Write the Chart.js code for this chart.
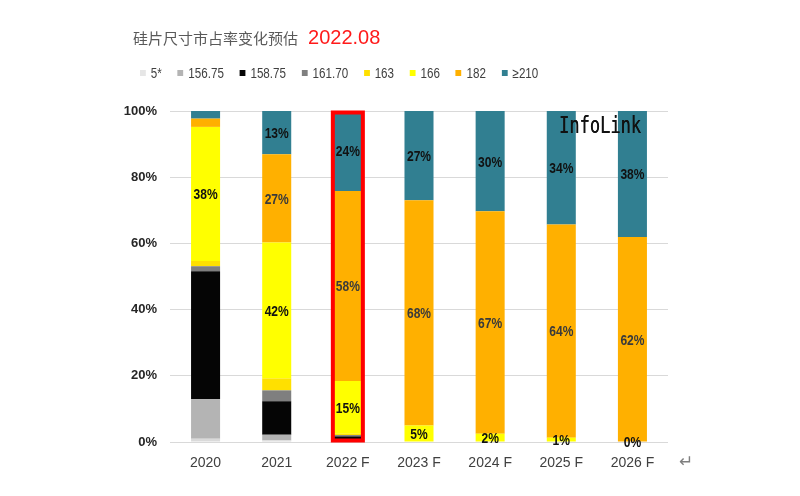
<!DOCTYPE html>
<html>
<head>
<meta charset="utf-8">
<script src="https://cdn.jsdelivr.net/npm/chart.js@4/dist/chart.umd.min.js"></script>
<style>
  html, body { margin: 0; padding: 0; background: #fff; }
  #wrap { position: relative; width: 800px; height: 496px; overflow: hidden; }
  #c { position: absolute; left: 0; top: 0; }
  #title { position: absolute; left: 133px; top: 24px; line-height: 26px; white-space: nowrap; }
  #title .cn { font-family: "Noto Sans CJK SC", sans-serif; font-size: 15px; color: #595959; }
  #title .dt { font-family: "Liberation Sans", Arial, sans-serif; font-size: 20px; color: #ff1a1a; margin-left: 10px; }
  #legend { position: absolute; left: 140px; top: 64px; height: 18px; display: flex; align-items: center; white-space: nowrap;
            font-family: "Liberation Sans", Arial, sans-serif; font-size: 14px; color: #404040;
            transform: scaleX(0.83); transform-origin: left center; }
  #legend .it { display: flex; align-items: center; margin-right: 19px; }
  #legend .bx { width: 7px; height: 6px; margin-right: 6px; }
  #logo { position: absolute; left: 559px; top: 112px; font-family: "DejaVu Sans Mono", monospace; font-size: 23px; color: #111;
          transform: scaleX(0.74); transform-origin: left top; white-space: nowrap; text-shadow: 0.4px 0 0 #111; }
  #ret { position: absolute; left: 679px; top: 451px; font-family: "DejaVu Sans", sans-serif; font-size: 17px; color: #7f7f7f; }
</style>
</head>
<body>
<div id="wrap">
  <canvas id="c" width="800" height="496"></canvas>
  <div id="title"><span class="cn">硅片尺寸市占率变化预估</span><span class="dt">2022.08</span></div>
  <div id="legend"></div>
  <div id="logo">InfoLink</div>
  <div id="ret">↵</div>
</div>
<script>
// ---- data ----
const categories = ['2020', '2021', '2022 F', '2023 F', '2024 F', '2025 F', '2026 F'];
const seriesNames = ['5*', '156.75', '158.75', '161.70', '163', '166', '182', '≥210'];
const s5     = [1.0, 0.5, 0,    0,    0,    0,    0];
const s15675 = [11.9, 1.7, 0.3, 0,    0,    0,    0];
const s15875 = [38.7, 10.1, 1.4, 0,   0,    0,    0];
const s16170 = [1.5, 3.3, 0.4,  0,    0,    0,    0];
const s163   = [1.6, 3.6, 0.4,  0,    0,    0,    0];
const s166   = [40.5, 41.1, 15.9, 5.0, 2.5, 1.3, 0];
const s182   = [2.5, 26.6, 57.4, 68.0, 67.2, 64.4, 61.9];
const s210   = [2.3, 13.1, 24.2, 27.0, 30.3, 34.3, 38.1];
// displayed percentage labels
const lbl166 = ['38%', '42%', '15%', '5%', '2%', '1%', '0%'];
const lbl182 = ['', '27%', '58%', '68%', '67%', '64%', '62%'];
const lbl210 = ['', '13%', '24%', '27%', '30%', '34%', '38%'];
const yTicks = [0, 20, 40, 60, 80, 100];
const highlightIndex = 2; // 2022 F outlined in red

const colors = ['#dadada', '#b4b4b4', '#050505', '#7f7f7f', '#ffe000', '#ffff00', '#ffb000', '#317f91'];
const legendColors = ['#e6e6e6', '#b4b4b4', '#050505', '#7f7f7f', '#ffe000', '#ffff00', '#ffb000', '#317f91'];
const seriesData = [s5, s15675, s15875, s16170, s163, s166, s182, s210];

// HTML legend
const legendEl = document.getElementById('legend');
seriesNames.forEach((n, i) => {
  const it = document.createElement('div'); it.className = 'it';
  const bx = document.createElement('div'); bx.className = 'bx'; bx.style.background = legendColors[i];
  const tx = document.createElement('span'); tx.textContent = n;
  it.appendChild(bx); it.appendChild(tx); legendEl.appendChild(it);
});

const FONT = '"Liberation Sans", Arial, sans-serif';

const labelPlugin = {
  id: 'segLabels',
  afterDatasetsDraw(chart) {
    const ctx = chart.ctx;
    const sets = [[5, lbl166, '#111111'], [6, lbl182, '#3a3a3a'], [7, lbl210, '#111111']];
    const sx = 0.86;
    ctx.save();
    ctx.font = 'bold 14px ' + FONT;
    ctx.textAlign = 'center';
    ctx.textBaseline = 'middle';
    sets.forEach(([di, labels, col]) => {
      const meta = chart.getDatasetMeta(di);
      meta.data.forEach((el, i) => {
        const t = labels[i];
        if (!t) return;
        const cy = (el.y + el.base) / 2 + 1.5;
        ctx.save();
        ctx.translate(el.x, cy);
        ctx.scale(sx, 1);
        ctx.fillStyle = col;
        ctx.fillText(t, 0, 0);
        ctx.restore();
      });
    });
    // red highlight frame
    const top = chart.getDatasetMeta(7).data[highlightIndex];
    const ys = chart.scales.y;
    const yTop = ys.getPixelForValue(100);
    const yBot = ys.getPixelForValue(0);
    ctx.strokeStyle = '#ff0000';
    ctx.lineWidth = 4;
    const hw = top.width / 2;
    ctx.strokeRect(top.x - hw - 0.5, yTop + 1.5, hw * 2 + 1, yBot - yTop - 3);
    ctx.restore();
  }
};

new Chart(document.getElementById('c'), {
  type: 'bar',
  data: {
    labels: categories,
    datasets: seriesNames.map((n, i) => ({
      label: n,
      data: seriesData[i],
      backgroundColor: colors[i],
      borderWidth: 0,
      categoryPercentage: 0.8,
      barPercentage: 0.51
    }))
  },
  options: {
    responsive: false,
    animation: false,
    devicePixelRatio: 1,
    layout: { padding: { left: 100, right: 132, top: 111, bottom: 14 } },
    plugins: { legend: { display: false }, title: { display: false }, tooltip: { enabled: false } },
    scales: {
      x: {
        stacked: true,
        grid: { display: false, drawTicks: false },
        border: { display: false },
        ticks: { padding: 13, color: '#404040', font: { family: FONT, size: 14 } },
        afterFit(s) { s.height = 40; }
      },
      y: {
        stacked: true,
        min: 0, max: 100,
        afterBuildTicks(s) { s.ticks = yTicks.map(v => ({ value: v })); },
        grid: { color: '#d9d9d9', lineWidth: 1, drawTicks: false },
        border: { display: false },
        ticks: { padding: 13, color: '#262626', font: { family: FONT, size: 13, weight: 'bold' },
                 callback: v => v + '%' },
        afterFit(s) { s.width = 70; }
      }
    }
  },
  plugins: [labelPlugin]
});
</script>
</body>
</html>
